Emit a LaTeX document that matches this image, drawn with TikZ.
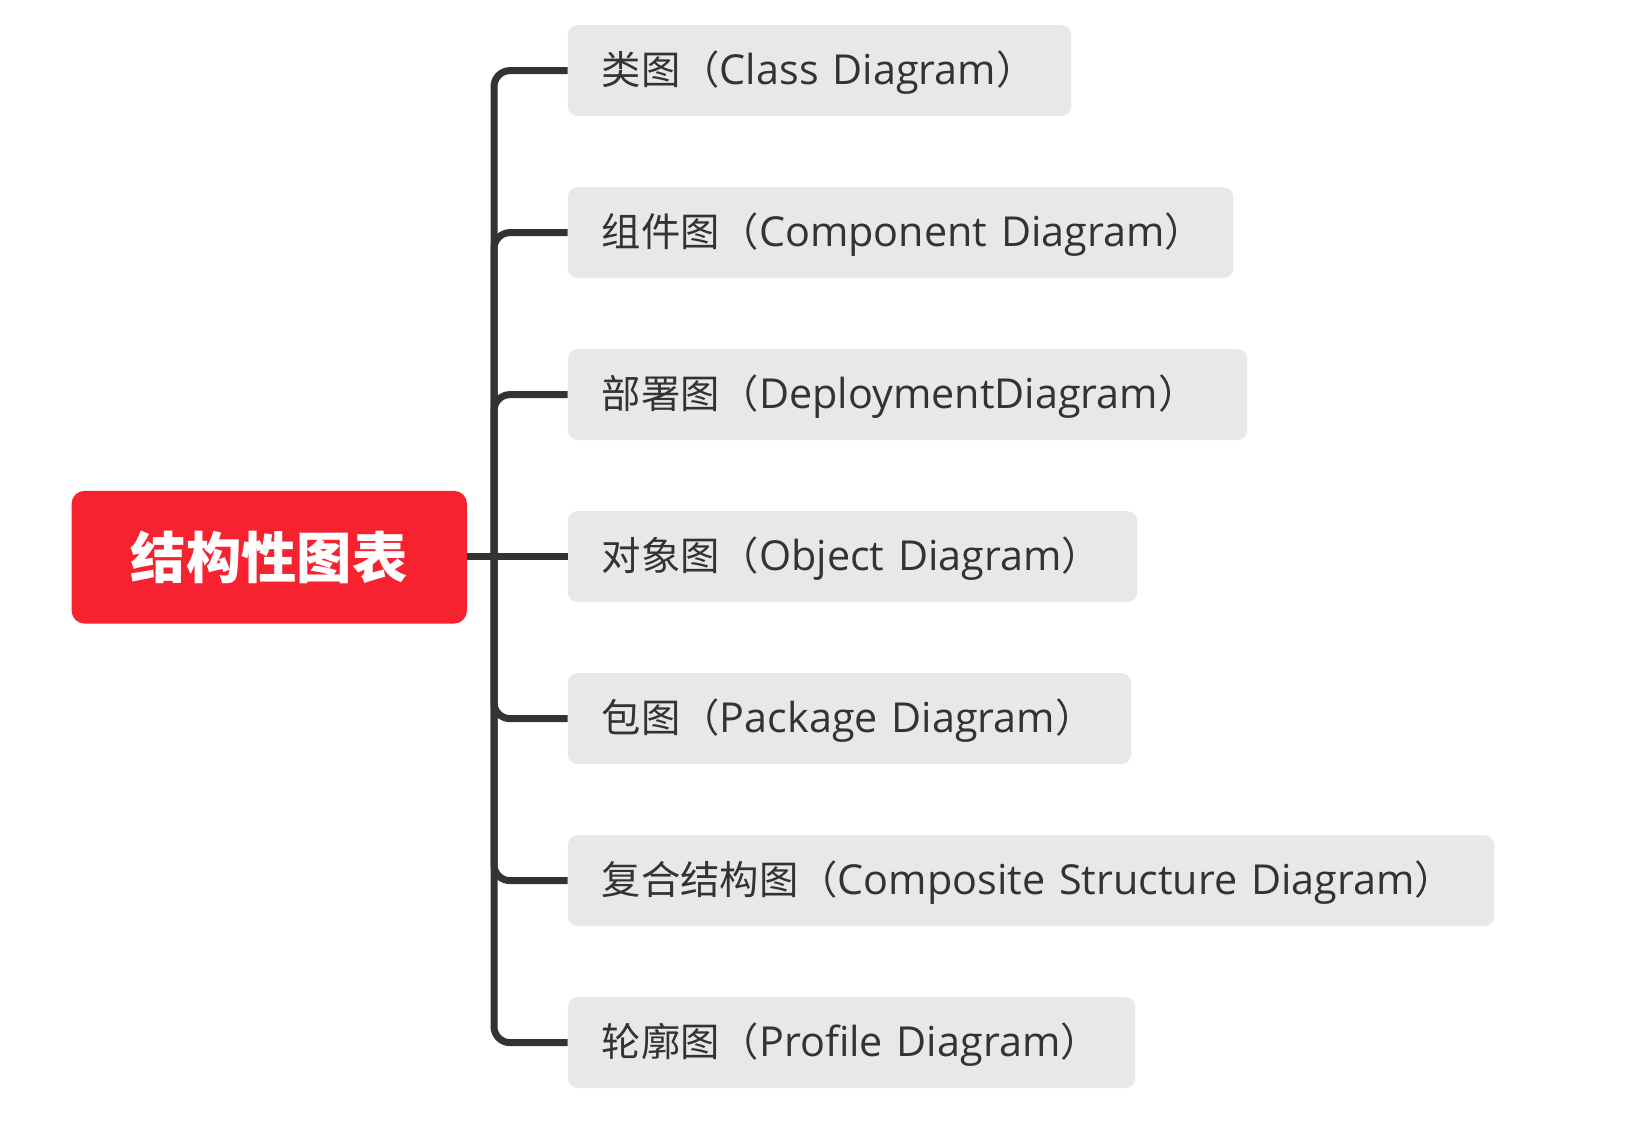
\documentclass[tikz,border=0pt]{standalone}
\usepackage{fontspec}
\setmainfont[Scale=1.05]{Open Sans}
\newfontfamily\cjk{Noto Sans CJK SC}
\newdimen\pxu \pxu=0.75pt
\hbadness=10000 \hfuzz=100pt
\definecolor{rootred}{HTML}{F6222F}
\definecolor{boxgray}{HTML}{E8E8E8}
\definecolor{linegray}{HTML}{333333}
\definecolor{txtgray}{HTML}{333333}
\newcommand{\zh}[1]{{\cjk #1}}
\begin{document}
\begin{tikzpicture}[x=0.75pt,y=-0.75pt,
  child/.style={fill=boxgray, rounded corners=10\pxu, minimum height=91\pxu,
    inner xsep=34\pxu, inner ysep=0pt, align=left, anchor=west,
    text height=31\pxu, text depth=4\pxu,
    text=txtgray, font=\fontsize{29.5pt}{34pt}\selectfont},
  rootbox/.style={fill=rootred, rounded corners=13\pxu, minimum width=395.4\pxu,
    minimum height=132.8\pxu, text=white, font=\fontsize{41.5pt}{48pt}\selectfont\cjk\bfseries},
  conn/.style={draw=linegray, line width=7\pxu}]
\useasboundingbox (0,0) rectangle (1627,1140);
\node[rootbox] (root) at (269.3,557.2) {结构性图表};
\node[child, text width=435.4\pxu] (c1) at (567.6,70.6) {\mbox{\zh{类图（}Class Diagram\zh{）}}};
\node[child, text width=597.4\pxu] (c2) at (567.6,232.6) {\mbox{\zh{组件图（}Component Diagram\zh{）}}};
\node[child, text width=611.4\pxu] (c3) at (567.6,394.6) {\mbox{\zh{部署图（}DeploymentDiagram\zh{）}}};
\node[child, text width=501.4\pxu] (c4) at (567.6,556.6) {\mbox{\zh{对象图（}Object Diagram\zh{）}}};
\node[child, text width=495.4\pxu] (c5) at (567.6,718.6) {\mbox{\zh{包图（}Package Diagram\zh{）}}};
\node[child, text width=858.4\pxu] (c6) at (567.6,880.6) {\mbox{\zh{复合结构图（}Composite Structure Diagram\zh{）}}};
\node[child, text width=499.4\pxu] (c7) at (567.6,1042.6) {\mbox{\zh{轮廓图（}Profile Diagram\zh{）}}};
\coordinate (trunk) at (494,556.6);
\draw[conn] (root.east |- c4.west) -- (c4.west);
\foreach \c in {c1,c2,c3,c5,c6,c7}
  \draw[conn, rounded corners=16\pxu] (trunk) |- (\c.west);
\end{tikzpicture}
\end{document}
